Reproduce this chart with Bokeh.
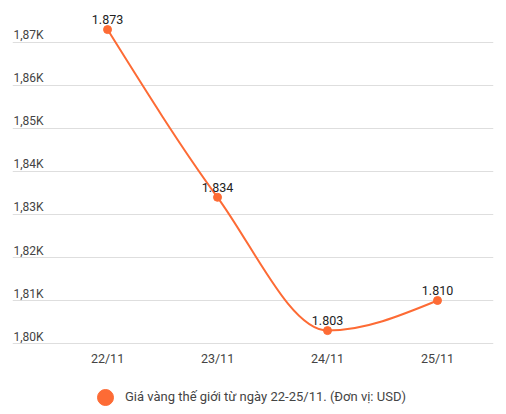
import numpy as np
from bokeh.plotting import figure
from bokeh.models import FixedTicker, Legend, LegendItem
from bokeh.core.properties import value
from bokeh.embed import file_html
from bokeh.resources import INLINE

days = ["22/11", "23/11", "24/11", "25/11"]
prices = [1873, 1834, 1803, 1810]
price_labels = ["1.873", "1.834", "1.803", "1.810"]
y_ticks = [1800, 1810, 1820, 1830, 1840, 1850, 1860, 1870]
y_tick_labels = ["1,80K", "1,81K", "1,82K", "1,83K", "1,84K", "1,85K", "1,86K", "1,87K"]
legend_text = "Giá vàng thế giới từ ngày 22-25/11. (Đơn vị: USD)"

ORANGE = "#fd6b35"
FONT = "Roboto"
x_start, x_end = -0.864, 3.509

xs = np.arange(len(days), dtype=float)
ys = np.array(prices, dtype=float)

# monotone cubic slopes (like d3 curveMonotoneX)
s = np.diff(ys)
m = np.zeros(len(ys))
for k in range(1, len(ys) - 1):
    if s[k - 1] * s[k] > 0:
        pk = (s[k - 1] + s[k]) / 2
        m[k] = np.sign(s[k]) * 2 * min(abs(s[k - 1]), abs(s[k]), 0.5 * abs(pk))
m[0] = (3 * s[0] - m[1]) / 2
m[-1] = (3 * s[-1] - m[-2]) / 2

p = figure(width=500, height=406, title=None,
           x_range=(x_start, x_end), y_range=(1785.35, 1877.44),
           output_backend="svg", toolbar_location=None,
           x_axis_location=None, y_axis_location=None,
           min_border_left=12, min_border_right=7,
           min_border_top=10, min_border_bottom=0)
p.outline_line_color = None
p.xgrid.visible = False
p.ygrid.ticker = FixedTicker(ticks=y_ticks)
p.ygrid.grid_line_color = "#dedede"

# y tick labels, sitting on the gridlines
p.text(x=[x_start] * len(y_ticks), y=y_ticks, text=y_tick_labels,
       x_offset=1, y_offset=-7, text_align="left", text_baseline="alphabetic",
       text_font=value(FONT), text_font_size="12px", text_color="#444444")

# x labels
p.text(x=xs, y=[y_ticks[0]] * len(days), text=days,
       y_offset=15, text_align="center", text_baseline="alphabetic",
       text_font=value(FONT), text_font_size="12.5px", text_color="#444444")

p.bezier(x0=xs[:-1], y0=ys[:-1], x1=xs[1:], y1=ys[1:],
         cx0=xs[:-1] + 1 / 3, cy0=ys[:-1] + m[:-1] / 3,
         cx1=xs[1:] - 1 / 3, cy1=ys[1:] - m[1:] / 3,
         line_color=ORANGE, line_width=2)
pts = p.scatter(xs, ys, size=8, color=ORANGE)

p.text(x=xs, y=ys, text=price_labels, y_offset=-10,
       text_align="center", text_baseline="alphabetic",
       text_font=value(FONT), text_font_size="12.5px", text_color="#222222")

legend = Legend(items=[LegendItem(label=legend_text, renderers=[pts])],
                location=(73, -10.5), glyph_width=40, glyph_height=40,
                label_standoff=0, padding=0, margin=0,
                border_line_color=None, background_fill_alpha=0,
                label_text_font=FONT, label_text_font_size="13px",
                label_text_color="#444444")
p.add_layout(legend)

open("out.html", "w").write(file_html(p, INLINE))
